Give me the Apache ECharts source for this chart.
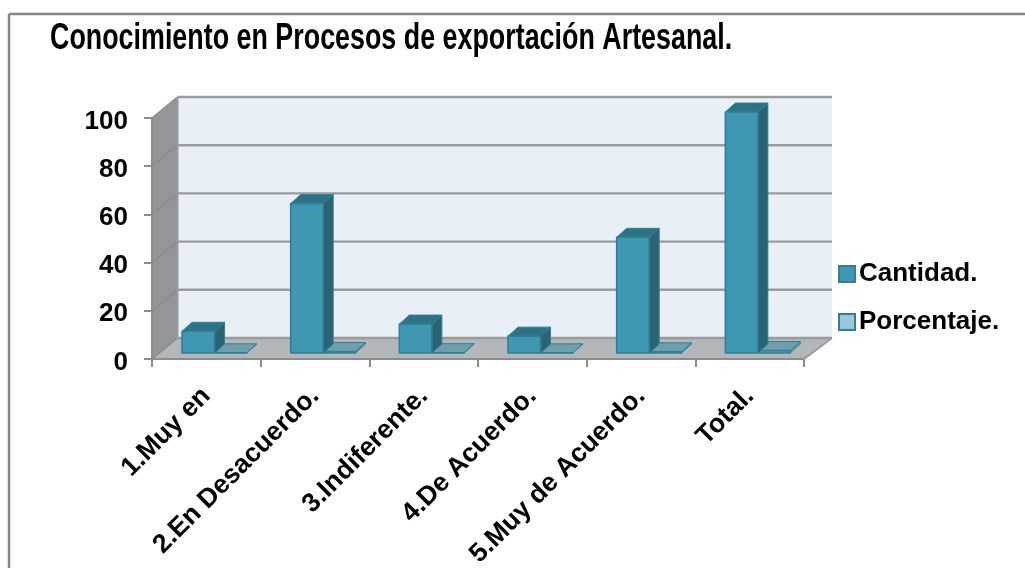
<!DOCTYPE html>
<html>
<head>
<meta charset="utf-8">
<title>Conocimiento en Procesos de exportación Artesanal.</title>
<style>
html, body { margin: 0; padding: 0; background: #fff; }
#chart { width: 1025px; height: 568px; }
</style>
<script src="https://cdn.jsdelivr.net/npm/echarts@6/dist/echarts.min.js"></script>
</head>
<body>
<div id="chart"></div>
<script>
const chartTitle = 'Conocimiento en Procesos de exportación Artesanal.';
const categories = ['1.Muy en', '2.En Desacuerdo.', '3.Indiferente.', '4.De Acuerdo.', '5.Muy de Acuerdo.', 'Total.'];
const cantidad = [9, 62, 12, 7, 48, 100];
const porcentaje = [0.09, 0.62, 0.12, 0.07, 0.48, 1];
const yTicks = [0, 20, 40, 60, 80, 100];

// 3d look: how far the back wall sits from the front plane
const wallDxLeft = 25.5, wallDxRight = 28, wallDy = -21;
const barDepthX = 10, barDepthY = -9;
const barInsetY = -6;
const barWidth = 32.5;
const gridGray = '#9b9b9b';

const chart = echarts.init(document.getElementById('chart'));

function poly(points, fill, stroke, lw) {
    return {
        type: 'polygon',
        shape: { points: points },
        style: { fill: fill, stroke: stroke || null, lineWidth: lw || 0, lineJoin: 'round' }
    };
}

function line(a, b, color, lw) {
    return {
        type: 'line',
        shape: { x1: a[0], y1: a[1], x2: b[0], y2: b[1] },
        style: { stroke: color, lineWidth: lw }
    };
}

// walls and floor, built from the axis scale
function renderWalls(params, api) {
    const o = api.coord([0, 0]);
    const band = api.size([1, 0])[0];
    const left = o[0] - band / 2;
    const right = left + band * categories.length;
    const backL = left + wallDxLeft, backR = right + wallDxRight;
    const y0 = o[1];
    const yTop = api.coord([0, 100])[1];
    const children = [
        poly([[backL, yTop + wallDy], [backR, yTop + wallDy], [backR, y0 + wallDy], [backL, y0 + wallDy]], '#e8eff6'),
        poly([[left, yTop], [backL, yTop + wallDy], [backL, y0 + wallDy], [left, y0]], '#939599'),
        poly([[left, y0], [backL, y0 + wallDy], [backR, y0 + wallDy], [right, y0]], '#b3b7ba')
    ];
    yTicks.forEach(function (t) {
        const y = api.coord([0, t])[1];
        children.push(line([backL, y + wallDy], [backR, y + wallDy], gridGray, 2.4));
        children.push(line([left, y], [backL, y + wallDy], '#8a8c8e', 1.6));
    });
    children.push(line([backL, yTop + wallDy], [backL, y0 + wallDy], gridGray, 2));
    children.push(line([right, y0], [backR, y0 + wallDy], gridGray, 2));
    return { type: 'group', children: children };
}

function makeBarRender(offsetFromCenter, front, side, top, edge) {
    return function (params, api) {
        const cat = api.value(0);
        const base = api.coord([cat, 0]);
        const head = api.coord([cat, api.value(1)]);
        const x0 = base[0] + offsetFromCenter;
        const x1 = x0 + barWidth;
        const yb = base[1] + barInsetY;
        const yt = head[1] + barInsetY;
        return {
            type: 'group',
            children: [
                poly([[x1, yt], [x1 + barDepthX, yt + barDepthY], [x1 + barDepthX, yb + barDepthY], [x1, yb]], side, edge, 1),
                poly([[x0, yt], [x0 + barDepthX, yt + barDepthY], [x1 + barDepthX, yt + barDepthY], [x1, yt]], top, edge, 1),
                poly([[x0, yt], [x1, yt], [x1, yb], [x0, yb]], front, edge, 1.6)
            ]
        };
    };
}

function pairs(values) {
    return values.map(function (v, i) { return [i, v]; });
}

const option = {
    animation: false,
    backgroundColor: '#fff',
    textStyle: { fontFamily: 'Liberation Sans' },
    legend: {
        orient: 'vertical',
        left: 833,
        top: 256,
        itemWidth: 16,
        itemHeight: 16,
        itemGap: 22,
        textStyle: { fontFamily: 'Liberation Sans', fontWeight: 'bold', fontSize: 26, color: '#000', padding: [0, 0, 0, -1] },
        data: [
            { name: 'Cantidad.', icon: 'rect', itemStyle: { color: '#4097b2', borderColor: '#2e7f98', borderWidth: 2 } },
            { name: 'Porcentaje.', icon: 'rect', itemStyle: { color: '#9ac8da', borderColor: '#2e7f98', borderWidth: 2 } }
        ]
    },
    grid: { left: 152, right: 221, top: 118, bottom: 209, outerBoundsMode: 'none' },
    xAxis: {
        type: 'category',
        data: categories,
        z: 5,
        axisLine: { lineStyle: { color: '#8c8c8c', width: 2 } },
        axisTick: { show: true, length: 8, lineStyle: { color: '#8c8c8c', width: 2 } },
        axisLabel: {
            interval: 0,
            rotate: 45,
            margin: 33,
            fontFamily: 'Liberation Sans',
            fontWeight: 'bold',
            fontSize: 26.5,
            color: '#000'
        }
    },
    yAxis: {
        type: 'value',
        min: 0,
        max: 100,
        interval: 20,
        z: 5,
        splitLine: { show: false },
        axisLine: { show: true, lineStyle: { color: '#8c8c8c', width: 2 } },
        axisTick: { show: true, length: 8, lineStyle: { color: '#8c8c8c', width: 2 } },
        axisLabel: {
            margin: 24,
            formatter: '{n|{value}}',
            rich: {
                n: { padding: [7, 0, 0, 0], fontFamily: 'Liberation Sans', fontWeight: 'bold', fontSize: 26, color: '#000' }
            }
        }
    },
    graphic: [
        { type: 'line', z: 0, shape: { x1: 9, y1: 14, x2: 1025, y2: 14 }, style: { stroke: '#868686', lineWidth: 2.5 } },
        { type: 'line', z: 0, shape: { x1: 9, y1: 14, x2: 9, y2: 568 }, style: { stroke: '#868686', lineWidth: 2.5 } },
        // the title is a squeezed Arial in the original, no narrow font is installed
        {
            type: 'text',
            z: 6,
            x: 50,
            y: 20,
            scaleX: 0.726,
            style: { text: chartTitle, fontFamily: 'Liberation Sans', fontWeight: 'bold', fontSize: 37, fill: '#000' }
        }
    ],
    series: [
        {
            name: 'muros',
            type: 'custom',
            z: 1,
            clip: false,
            silent: true,
            renderItem: renderWalls,
            data: [[0, 0]]
        },
        {
            name: 'Porcentaje.',
            type: 'custom',
            z: 2,
            clip: false,
            renderItem: makeBarRender(8, '#6f9fac', '#6f9fac', '#6f9fac', '#2e8099'),
            itemStyle: { color: '#9ac8da' },
            data: pairs(porcentaje)
        },
        {
            name: 'Cantidad.',
            type: 'custom',
            z: 3,
            clip: false,
            renderItem: makeBarRender(-24.3, '#4097b2', '#2a6474', '#2e7286', '#2e7f98'),
            itemStyle: { color: '#4097b2' },
            data: pairs(cantidad)
        }
    ]
};

chart.setOption(option);
</script>
</body>
</html>
